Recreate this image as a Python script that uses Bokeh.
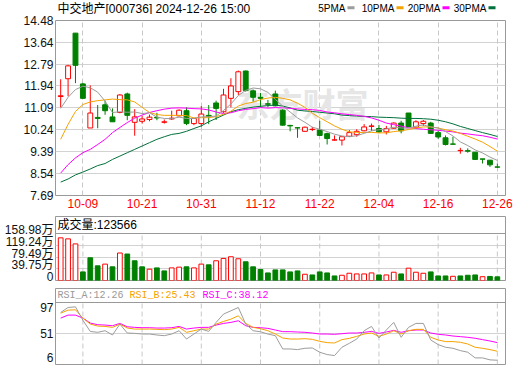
from bokeh.plotting import figure
from bokeh.models import (Range1d, FixedTicker, LinearAxis, Grid, Label, Span,
                          ColumnDataSource, NumeralTickFormatter)
from bokeh.layouts import column
from bokeh.embed import file_html
from bokeh.resources import INLINE
from bokeh.core.properties import value

# ---------------- data ----------------
dates = ["09-27", "09-30", "10-08", "10-09", "10-10", "10-11", "10-14", "10-15", "10-16", "10-17",
         "10-18", "10-21", "10-22", "10-23", "10-24", "10-25", "10-28", "10-29", "10-30", "10-31",
         "11-01", "11-04", "11-05", "11-06", "11-07", "11-08", "11-11", "11-12", "11-13", "11-14",
         "11-15", "11-18", "11-19", "11-20", "11-21", "11-22", "11-25", "11-26", "11-27", "11-28",
         "11-29", "12-02", "12-03", "12-04", "12-05", "12-06", "12-09", "12-10", "12-11", "12-12",
         "12-13", "12-16", "12-17", "12-18", "12-19", "12-20", "12-23", "12-24", "12-25", "12-26"]

opens = [11.53, 12.22, 13.99, 12.02, 10.31, 10.72, 11.21, 10.74, 10.91, 11.63,
         10.53, 10.57, 10.64, 10.72, 10.53, 10.66, 10.78, 10.98, 10.48, 10.48,
         10.80, 11.28, 10.94, 11.46, 11.72, 12.52, 11.75, 11.50, 11.25, 11.63,
         11.00, 10.41, 10.32, 10.18, 10.25, 10.23, 10.09, 9.84, 9.84, 9.99,
         10.05, 10.20, 10.37, 10.29, 10.16, 10.30, 10.50, 10.89, 10.34, 10.48,
         10.50, 10.13, 9.93, 9.69, 9.43, 9.43, 9.37, 9.11, 9.06, 8.80]
highs = [12.20, 12.76, 13.99, 12.06, 11.96, 11.20, 11.37, 11.07, 11.62, 11.68,
         11.04, 10.78, 10.83, 10.90, 10.64, 10.98, 11.03, 11.11, 10.70, 11.16,
         11.20, 11.37, 11.83, 12.24, 12.54, 12.54, 11.80, 11.67, 11.40, 11.76,
         11.04, 10.43, 10.32, 10.36, 10.35, 10.59, 10.13, 10.02, 9.98, 10.23,
         10.26, 10.46, 10.48, 10.43, 10.39, 10.53, 10.59, 10.89, 10.61, 10.62,
         10.55, 10.20, 10.02, 9.97, 9.54, 9.52, 9.37, 9.11, 9.07, 8.93]
lows = [11.11, 11.54, 12.05, 11.44, 10.31, 10.30, 10.82, 10.55, 10.88, 10.61,
        10.01, 10.48, 10.57, 10.61, 10.48, 10.62, 10.76, 10.42, 10.42, 10.36,
        10.46, 10.62, 10.90, 11.11, 11.59, 11.72, 11.33, 11.11, 11.11, 11.15,
        10.40, 10.18, 9.93, 10.16, 10.19, 10.00, 9.67, 9.82, 9.63, 9.97,
        9.97, 10.18, 10.19, 10.11, 10.06, 10.28, 10.10, 10.35, 10.33, 10.39,
        10.10, 9.89, 9.63, 9.67, 9.31, 9.35, 9.09, 8.93, 8.80, 8.76]
closes = [11.56, 12.72, 12.74, 11.46, 10.89, 10.68, 10.98, 10.55, 11.59, 10.80,
          10.74, 10.66, 10.73, 10.70, 10.55, 10.69, 11.00, 10.48, 10.68, 10.85,
          10.76, 11.07, 11.59, 11.94, 12.49, 11.76, 11.50, 11.46, 11.23, 11.17,
          10.42, 10.39, 10.31, 10.34, 10.26, 10.02, 9.90, 9.85, 9.97, 10.13,
          10.18, 10.35, 10.39, 10.16, 10.29, 10.50, 10.20, 10.35, 10.55, 10.57,
          10.10, 9.96, 9.67, 9.68, 9.44, 9.41, 9.09, 9.10, 8.88, 8.79]
prev_close = 11.14

ma5 = [11.07, 11.50, 11.80, 11.93, 11.87, 11.70, 11.35, 10.91, 10.94, 10.92,
       10.93, 10.87, 10.90, 10.73, 10.68, 10.67, 10.73, 10.68, 10.68, 10.74,
       10.75, 10.77, 10.99, 11.24, 11.57, 11.77, 11.86, 11.83, 11.69, 11.42,
       11.16, 10.93, 10.70, 10.53, 10.34, 10.26, 10.17, 10.07, 10.00, 9.97,
       10.01, 10.10, 10.20, 10.24, 10.27, 10.34, 10.31, 10.30, 10.38, 10.43,
       10.35, 10.31, 10.17, 10.00, 9.77, 9.63, 9.46, 9.34, 9.18, 9.05]
ma10 = [9.87, 10.45, 10.95, 11.22, 11.32, 11.37, 11.40, 11.43, 11.41, 11.40,
        11.32, 11.11, 10.91, 10.83, 10.80, 10.80, 10.80, 10.79, 10.70, 10.71,
        10.71, 10.75, 10.84, 10.96, 11.16, 11.26, 11.31, 11.41, 11.47, 11.50,
        11.46, 11.40, 11.27, 11.11, 10.88, 10.71, 10.55, 10.39, 10.26, 10.16,
        10.14, 10.13, 10.14, 10.12, 10.12, 10.17, 10.20, 10.25, 10.31, 10.35,
        10.35, 10.31, 10.24, 10.19, 10.10, 9.99, 9.88, 9.76, 9.59, 9.41]
ma20 = [8.56, 8.89, 9.15, 9.35, 9.48, 9.67, 9.87, 10.13, 10.33, 10.52,
        10.69, 10.81, 10.91, 10.98, 11.04, 11.08, 11.09, 11.08, 11.06, 11.05,
        11.01, 10.93, 10.87, 10.90, 10.98, 11.03, 11.06, 11.10, 11.08, 11.10,
        11.09, 11.07, 11.05, 11.03, 11.02, 10.99, 10.93, 10.90, 10.86, 10.83,
        10.80, 10.76, 10.70, 10.61, 10.50, 10.44, 10.38, 10.32, 10.29, 10.26,
        10.24, 10.22, 10.19, 10.16, 10.11, 10.08, 10.04, 10.01, 9.95, 9.88]
ma30 = [8.21, 8.33, 8.49, 8.60, 8.72, 8.85, 8.93, 9.09, 9.22, 9.35,
        9.48, 9.61, 9.74, 9.87, 9.97, 10.06, 10.10, 10.18, 10.29, 10.39,
        10.55, 10.68, 10.81, 10.94, 11.02, 11.07, 11.12, 11.15, 11.18, 11.20,
        11.16, 11.09, 11.00, 10.97, 10.95, 10.92, 10.89, 10.86, 10.81, 10.79,
        10.77, 10.76, 10.75, 10.73, 10.72, 10.71, 10.69, 10.68, 10.68, 10.67,
        10.65, 10.61, 10.55, 10.47, 10.37, 10.29, 10.21, 10.13, 10.06, 9.98]

# volume in 万
volumes = [144.3, 140.9, 123.8, 29.1, 76.9, 49.6, 55.4, 46.2, 93.0, 89.6,
           66.7, 46.2, 38.3, 42.7, 32.5, 42.7, 45.1, 46.2, 42.7, 55.4,
           53.0, 66.7, 74.6, 80.3, 73.5, 63.3, 46.2, 37.0, 25.6, 35.9,
           35.9, 29.1, 32.5, 21.1, 18.8, 29.1, 25.6, 15.4, 17.7, 24.5,
           22.2, 22.2, 25.6, 18.8, 18.8, 28.0, 22.2, 41.7, 28.0, 24.5,
           29.1, 15.4, 15.4, 14.2, 15.4, 17.7, 18.8, 12.8, 13.7, 12.3566]

rsi_a = [82.4, 89.7, 90.6, 71.0, 54.5, 53.2, 55.6, 49.3, 65.3, 52.2,
         51.7, 50.7, 50.7, 49.3, 48.3, 50.7, 55.6, 43.4, 50.7, 58.0,
         54.6, 67.8, 80.0, 84.8, 89.7, 65.3, 55.6, 54.0, 50.7, 48.3,
         28.8, 28.8, 27.9, 29.8, 30.3, 24.0, 20.6, 19.1, 31.3, 37.1,
         43.4, 55.6, 61.9, 44.9, 56.6, 67.8, 45.9, 60.5, 66.3, 66.3,
         42.0, 35.2, 31.3, 29.8, 26.4, 24.0, 15.7, 15.7, 12.8, 12.26]
rsi_b = [81.4, 85.8, 86.3, 74.1, 65.3, 62.4, 61.9, 60.5, 65.3, 59.5,
         58.0, 58.0, 58.0, 57.6, 57.1, 58.0, 60.5, 53.2, 55.6, 58.0,
         58.0, 65.3, 69.2, 72.6, 77.5, 66.3, 60.5, 58.5, 55.6, 50.7,
         44.9, 43.4, 43.4, 43.9, 42.9, 40.0, 38.1, 37.6, 42.5, 44.4,
         47.3, 50.7, 52.2, 47.3, 50.7, 55.6, 50.7, 55.6, 57.6, 57.6,
         45.9, 42.0, 39.6, 39.6, 38.6, 36.1, 31.3, 29.8, 27.9, 25.43]
rsi_c = [74.1, 78.5, 78.5, 74.1, 66.8, 64.4, 63.9, 62.9, 66.3, 61.4,
         60.5, 60.0, 60.0, 59.5, 59.5, 60.0, 61.9, 58.0, 59.5, 60.5,
         60.5, 63.9, 66.3, 67.8, 70.2, 62.9, 60.5, 60.0, 59.0, 56.6,
         54.2, 54.2, 53.7, 53.2, 52.2, 50.7, 50.7, 50.3, 51.2, 52.2,
         52.2, 53.2, 54.6, 51.7, 53.7, 56.1, 53.2, 55.6, 56.6, 56.6,
         52.2, 50.3, 49.3, 47.8, 46.9, 45.9, 44.5, 42.5, 40.5, 38.12]

price_ticks = [7.69, 8.54, 9.39, 10.24, 11.09, 11.94, 12.79, 13.64, 14.48]
vol_ticks = [0, 39.75, 79.49, 119.24, 158.98]
vol_tick_labels = ["0", "39.75万", "79.49万", "119.24万", "158.98万"]
rsi_ticks = [6, 51, 97]
rsi_tick_labels = ["6", "51", "97"]
date_tick_idx = [3, 11, 19, 27, 35, 43, 51, 59]
title_text = "中交地产[000736] 2024-12-26 15:00"
ma_names = ["5PMA", "10PMA", "20PMA", "30PMA"]

# ---------------- style / layout ----------------
RED = "#ff0000"
GREEN = "#008000"
C5 = "#9c9c9c"
C10 = "#f5a300"
C20 = "#ff00ff"
C30 = "#00703c"
FRAME = "#999999"
GRID = "#d2d2d2"
VGRID = "#c8c8c8"
FONT = "Liberation Sans"
CJK = "Liberation Sans, Noto Sans CJK SC"
MONO = "Liberation Mono"

W = 520
LEFT, RIGHT = 55, 15
X0, X1 = -0.7, 60.1
FW = W - LEFT - RIGHT


def px2x(px):
    return X0 + (px - LEFT) * (X1 - X0) / FW


xr = Range1d(X0, X1)
n = len(closes)
idx = list(range(n))


def base_fig(h, top, bottom, y0, y1):
    p = figure(width=W, height=h, x_range=xr, y_range=Range1d(y0, y1),
               output_backend="svg", toolbar_location=None, tools="", title=None,
               x_axis_location=None, y_axis_location=None,
               min_border_left=LEFT, min_border_right=RIGHT,
               min_border_top=top, min_border_bottom=bottom,
               background_fill_color="white", border_fill_color="white",
               outline_line_color=FRAME)
    p.grid.visible = False
    return p


def y_axis(ticks, overrides=None, fmt=None):
    kw = dict(ticker=FixedTicker(ticks=ticks),
              axis_line_color=None, major_tick_line_color=None, minor_tick_line_color=None,
              major_tick_out=0, major_tick_in=0, major_label_standoff=2,
              major_label_text_font=CJK, major_label_text_font_size="12px",
              major_label_text_color="#111111")
    if overrides is not None:
        kw["major_label_overrides"] = overrides
    if fmt is not None:
        kw["formatter"] = fmt
    return LinearAxis(**kw)


# ---------------- header (title + MA legend) ----------------
# the column aligns all frames, so the header frame spans pixels LEFT .. W-RIGHT
HEAD_H = 14
ph = figure(width=W, height=HEAD_H, x_range=Range1d(LEFT, W - RIGHT), y_range=Range1d(HEAD_H, 0),
            output_backend="svg", toolbar_location=None, tools="", title=None,
            x_axis_location=None, y_axis_location=None,
            min_border_left=LEFT, min_border_right=RIGHT, min_border_top=0, min_border_bottom=0,
            background_fill_color="white", border_fill_color="white", outline_line_color=None)
ph.grid.visible = False
ph.text(x=[57], y=[8], text=[title_text], text_font=value(CJK), text_font_size="12px",
        text_baseline="middle", text_align="left", text_color="#000000")
leg_sw_left = [347, 396, 442, 488]
ph.text(x=[s - 2 for s in leg_sw_left], y=[8] * 4, text=ma_names, text_font=value(FONT),
        text_font_size="10px", text_baseline="middle", text_align="right", text_color="#000000")
ph.rect(x=[s + 3.5 for s in leg_sw_left], y=[7.3] * 4, width=7, height=3,
        fill_color=[C5, C10, C20, C30], line_color=None)

# ---------------- main (candles) ----------------
PMIN, PMAX = price_ticks[0], price_ticks[-1]
MAIN_FH = 175
pm = base_fig(200, 6, 19, PMIN, PMAX)
MAIN_TOP = HEAD_H + 6


def py_main(py):
    return PMAX - (py - MAIN_TOP) * (PMAX - PMIN) / MAIN_FH


pm.add_layout(Grid(dimension=1, ticker=FixedTicker(ticks=price_ticks), grid_line_color=GRID))
pm.add_layout(Grid(dimension=0, ticker=FixedTicker(ticks=date_tick_idx), grid_line_color=VGRID,
                   grid_line_dash="5 3"))

wm = Label(x=px2x(236), y=py_main(102), text="东方财富", text_font="Noto Sans CJK SC",
           text_font_size="33px", text_font_style="bold", text_color="#e6e6e6",
           text_baseline="middle", text_align="left", level="underlay")
pm.add_layout(wm)

up = [c >= o for o, c in zip(opens, closes)]
src = ColumnDataSource(dict(
    x=idx, o=opens, h=highs, l=lows, c=closes,
    top=[max(o, c) for o, c in zip(opens, closes)],
    bot=[min(o, c) for o, c in zip(opens, closes)],
    col=[RED if u else GREEN for u in up],
    fill=["white" if u else GREEN for u in up],
))
pm.segment(x0="x", y0="l", x1="x", y1="h", line_color="col", line_width=1, source=src)
pm.vbar(x="x", top="top", bottom="bot", width=0.66, fill_color="fill", line_color="col",
        line_width=1, source=src)

for ys, colr in [(ma30, C30), (ma20, C20), (ma10, C10), (ma5, C5)]:
    pm.line(idx, ys, line_color=colr, line_width=1)

pm.add_layout(y_axis(price_ticks, fmt=NumeralTickFormatter(format="0.00")), "left")
xax = LinearAxis(ticker=FixedTicker(ticks=date_tick_idx),
                 major_label_overrides={i: dates[i] for i in date_tick_idx},
                 axis_line_color=None, major_tick_line_color=None, minor_tick_line_color=None,
                 major_tick_out=0, major_tick_in=0, major_label_standoff=3,
                 major_label_text_font=FONT, major_label_text_font_size="12px",
                 major_label_text_color=RED)
pm.add_layout(xax, "below")

# ---------------- volume ----------------
VOL_FH = 64
VTOP = vol_ticks[-1] * VOL_FH / 47.0
pv = base_fig(70, 2, 4, 0, VTOP)
VOL_BOTTOM_PX = 280


def py_vol(py):
    return (VOL_BOTTOM_PX - py) * VTOP / VOL_FH


pv.add_layout(Grid(dimension=1, ticker=FixedTicker(ticks=vol_ticks[1:-1]), grid_line_color=GRID))
pv.segment(x0=date_tick_idx, y0=[0] * len(date_tick_idx), x1=date_tick_idx,
           y1=[vol_ticks[-1]] * len(date_tick_idx), line_color=VGRID, line_dash="5 3")
pv.add_layout(Span(location=vol_ticks[-1], dimension="width", line_color=FRAME, line_width=1))

pcs = [prev_close] + closes[:-1]
vup = [c >= pc for c, pc in zip(closes, pcs)]
vsrc = ColumnDataSource(dict(x=idx, v=volumes,
                             col=[RED if u else GREEN for u in vup],
                             fill=["white" if u else GREEN for u in vup]))
pv.vbar(x="x", top="v", bottom=0, width=0.64, fill_color="fill", line_color="col",
        line_width=1, source=vsrc)

# labels sit just above their grid line
vshift = 3.5 * VTOP / VOL_FH
vpos = [v + vshift for v in vol_ticks]
pv.add_layout(y_axis(vpos, overrides={p: t for p, t in zip(vpos, vol_tick_labels)}), "left")

pv.add_layout(Label(x=px2x(57), y=py_vol(224.5), text="成交量:%d" % round(volumes[-1] * 10000),
                    text_font=CJK, text_font_size="12px",
                    text_baseline="middle", text_align="left", text_color="#000000"))

# ---------------- RSI ----------------
RSI_FH = 76
RMIN, RMAX = rsi_ticks[0], rsi_ticks[-1]
RTOP = RMIN + (RMAX - RMIN) * RSI_FH / 62.0
pr = base_fig(81, 4, 1, RMIN, RTOP)
RSI_BOTTOM_PX = 364


def py_rsi(py):
    return RMIN + (RSI_BOTTOM_PX - py) * (RTOP - RMIN) / RSI_FH


pr.add_layout(Grid(dimension=1, ticker=FixedTicker(ticks=[rsi_ticks[1]]), grid_line_color=GRID))
pr.segment(x0=date_tick_idx, y0=[RMIN] * len(date_tick_idx), x1=date_tick_idx,
           y1=[RMAX] * len(date_tick_idx), line_color=VGRID, line_dash="5 3")
pr.add_layout(Span(location=RMAX, dimension="width", line_color=FRAME, line_width=1))

for ys, colr in [(rsi_c, C20), (rsi_b, C10), (rsi_a, C5)]:
    pr.line(idx, ys, line_color=colr, line_width=1)

rstep = (RTOP - RMIN) / RSI_FH
rpos = [rsi_ticks[0] + 7 * rstep, rsi_ticks[1], rsi_ticks[2] - 5 * rstep]
pr.add_layout(y_axis(rpos, overrides={p: t for p, t in zip(rpos, rsi_tick_labels)}), "left")

for name, vals, tx, colr in [("RSI_A", rsi_a, 57, "#999999"), ("RSI_B", rsi_b, 129, C10),
                             ("RSI_C", rsi_c, 202, C20)]:
    pr.add_layout(Label(x=px2x(tx), y=py_rsi(295), text="%s:%.2f" % (name, vals[-1]),
                        text_font=MONO, text_font_size="10px", text_baseline="middle",
                        text_align="left", text_color=colr))

layout = column(ph, pm, pv, pr, spacing=0)
open("out.html", "w").write(file_html(layout, INLINE))
